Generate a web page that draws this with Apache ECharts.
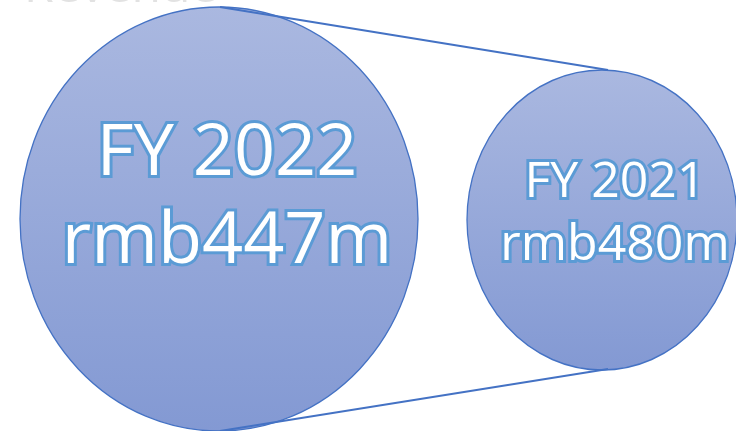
<!DOCTYPE html>
<html>
<head>
<meta charset="utf-8">
<style>
  html, body { margin: 0; padding: 0; background: #ffffff; }
  #chart { width: 736px; height: 431px; }
</style>
<script src="https://cdn.jsdelivr.net/npm/echarts@6/dist/echarts.min.js"></script>
</head>
<body>
<div id="chart"></div>
<script>
// ---- data ----
const years = ['FY 2022', 'FY 2021'];
const revenue = [447, 480];           // rmb, millions
const currency = 'rmb';
const unitSuffix = 'm';
const titleText = 'Revenue';

// ---- layout / style (not data) ----
const layout = [
  { cx: 219, cy: 219, rx: 199, ry: 212, tx: 227, font: 72, base1: 173, base2: 261 },
  { cx: 602, cy: 220, rx: 135, ry: 150, tx: 615, font: 50, base1: 196, base2: 259 }
];
const edge = '#4472C4';

const chart = echarts.init(document.getElementById('chart'), null, { renderer: 'canvas' });

function labelText(x, baseline, size, str) {
  return {
    type: 'text',
    x: x,
    y: baseline + size * 0.24,
    style: {
      text: str,
      fontSize: size,
      fontFamily: '"Open Sans", sans-serif',
      fill: '#ffffff',
      align: 'center',
      verticalAlign: 'bottom',
      stroke: '#5B9BD5',
      lineWidth: 6,
      strokeFirst: true,
      shadowColor: 'rgba(30,50,110,0.5)',
      shadowBlur: 4,
      shadowOffsetX: 1,
      shadowOffsetY: 1
    },
    z2: 10
  };
}

const option = {
  animation: false,
  backgroundColor: '#ffffff',
  grid: { left: 0, right: 0, top: 0, bottom: 0 },
  xAxis: { type: 'value', min: 0, max: 736, show: false },
  yAxis: { type: 'value', min: 0, max: 431, show: false, inverse: true },
  graphic: [{
    type: 'text',
    x: 24,
    y: 12.5,
    style: {
      text: titleText, fontSize: 48, fontFamily: '"Open Sans", sans-serif',
      fill: '#e2e2e2', verticalAlign: 'bottom', align: 'left'
    }
  }],
  series: [
    {
      type: 'custom',
      coordinateSystem: 'cartesian2d',
      data: years.map((y, i) => [i, revenue[i]]),
      renderItem: function (params, api) {
        const i = api.value(0);
        const L = layout[i];
        const children = [];
        if (i === 0) {
          const S = layout[1];
          const sx = S.cx + 6;
          children.push({
            type: 'line',
            shape: { x1: L.cx + 1, y1: L.cy - L.ry, x2: sx, y2: S.cy - S.ry },
            style: { stroke: edge, lineWidth: 2 }, z2: 5
          });
          children.push({
            type: 'line',
            shape: { x1: L.cx + 1, y1: L.cy + L.ry, x2: sx, y2: S.cy + S.ry - 1 },
            style: { stroke: edge, lineWidth: 2 }, z2: 5
          });
        }
        children.push({
          type: 'circle',
          x: L.cx, y: L.cy,
          scaleY: L.ry / L.rx,
          shape: { cx: 0, cy: 0, r: L.rx },
          style: {
            fill: new echarts.graphic.LinearGradient(0, 0, 0, 1, [
              { offset: 0, color: '#AAB8E0' },
              { offset: 1, color: '#8399D3' }
            ]),
            stroke: edge,
            lineWidth: 1.3
          },
          z2: 1
        });
        children.push(labelText(L.tx, L.base1, L.font, years[i]));
        children.push(labelText(L.tx, L.base2, L.font, currency + revenue[i] + unitSuffix));
        return { type: 'group', children: children };
      }
    }
  ]
};
chart.setOption(option);
</script>
</body>
</html>
